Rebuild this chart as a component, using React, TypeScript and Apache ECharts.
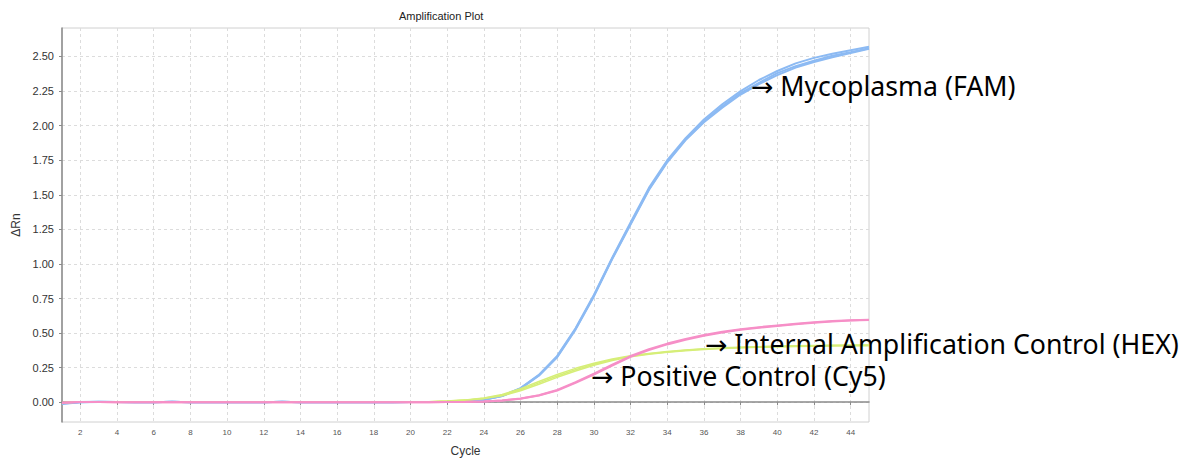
import React, { useEffect, useRef } from "react";
import * as echarts from "echarts";

const cycles = Array.from({ length: 45 }, (_, i) => i + 1);

const xTicks = [2, 4, 6, 8, 10, 12, 14, 16, 18, 20, 22, 24, 26, 28, 30, 32, 34, 36, 38, 40, 42, 44];
const yTicks = [0, 0.25, 0.5, 0.75, 1.0, 1.25, 1.5, 1.75, 2.0, 2.25, 2.5];

const blueA = [
  -0.010, 0.000, 0.003, 0.002, 0.000, 0.000, 0.004, 0.000, 0.000, 0.000,
  0.000, 0.000, 0.004, 0.000, 0.000, 0.000, 0.000, 0.000, 0.000, 0.001,
  0.002, 0.004, 0.008, 0.018, 0.045, 0.100, 0.195, 0.330, 0.530, 0.770,
  1.040, 1.290, 1.540, 1.740, 1.900, 2.030, 2.140, 2.235, 2.310, 2.380,
  2.430, 2.470, 2.505, 2.530, 2.560,
];
const blueB = [
  -0.008, 0.001, 0.003, 0.002, 0.000, 0.000, 0.003, 0.000, 0.000, 0.000,
  0.000, 0.000, 0.003, 0.000, 0.000, 0.000, 0.000, 0.000, 0.000, 0.001,
  0.002, 0.004, 0.009, 0.019, 0.046, 0.102, 0.198, 0.335, 0.535, 0.775,
  1.045, 1.300, 1.550, 1.750, 1.910, 2.045, 2.155, 2.250, 2.330, 2.395,
  2.450, 2.490, 2.520, 2.545, 2.570,
];
const blueC = [
  -0.012, 0.000, 0.002, 0.001, 0.000, 0.000, 0.004, 0.000, 0.000, 0.000,
  0.000, 0.000, 0.004, 0.000, 0.000, 0.000, 0.000, 0.000, 0.000, 0.001,
  0.002, 0.004, 0.008, 0.017, 0.044, 0.098, 0.192, 0.325, 0.525, 0.765,
  1.035, 1.285, 1.535, 1.735, 1.895, 2.025, 2.130, 2.225, 2.300, 2.365,
  2.420, 2.460, 2.495, 2.525, 2.555,
];

const greenA = [
  -0.003, 0.002, 0.002, 0.001, 0.000, 0.000, 0.000, 0.000, 0.000, 0.000,
  0.000, 0.000, 0.000, 0.000, 0.000, 0.000, 0.000, 0.000, 0.000, 0.001,
  0.003, 0.008, 0.015, 0.028, 0.050, 0.090, 0.140, 0.190, 0.235, 0.275,
  0.308, 0.333, 0.350, 0.364, 0.376, 0.385, 0.391, 0.396, 0.400, 0.403,
  0.406, 0.408, 0.410, 0.411, 0.412,
];
const greenB = [
  -0.002, 0.002, 0.002, 0.001, 0.000, 0.000, 0.000, 0.000, 0.000, 0.000,
  0.000, 0.000, 0.000, 0.000, 0.000, 0.000, 0.000, 0.000, 0.000, 0.001,
  0.003, 0.009, 0.017, 0.031, 0.056, 0.098, 0.150, 0.200, 0.245, 0.282,
  0.312, 0.336, 0.352, 0.366, 0.378, 0.387, 0.393, 0.398, 0.402, 0.405,
  0.408, 0.410, 0.412, 0.413, 0.414,
];
const greenC = [
  -0.003, 0.001, 0.002, 0.001, 0.000, 0.000, 0.000, 0.000, 0.000, 0.000,
  0.000, 0.000, 0.000, 0.000, 0.000, 0.000, 0.000, 0.000, 0.000, 0.001,
  0.002, 0.007, 0.014, 0.026, 0.046, 0.083, 0.130, 0.180, 0.226, 0.267,
  0.302, 0.329, 0.347, 0.361, 0.373, 0.382, 0.388, 0.393, 0.397, 0.400,
  0.403, 0.405, 0.407, 0.408, 0.409,
];

const pinkA = [
  -0.004, 0.002, 0.001, 0.000, 0.000, 0.000, 0.001, 0.000, 0.000, 0.000,
  0.000, 0.000, 0.000, 0.000, 0.000, 0.000, 0.000, 0.000, 0.000, 0.000,
  0.000, 0.001, 0.002, 0.005, 0.012, 0.025, 0.048, 0.085, 0.140, 0.200,
  0.265, 0.328, 0.378, 0.418, 0.452, 0.480, 0.504, 0.524, 0.539, 0.551,
  0.563, 0.575, 0.584, 0.591, 0.594,
];
const pinkB = [
  -0.003, 0.002, 0.001, 0.000, 0.000, 0.000, 0.001, 0.000, 0.000, 0.000,
  0.000, 0.000, 0.000, 0.000, 0.000, 0.000, 0.000, 0.000, 0.000, 0.000,
  0.000, 0.001, 0.003, 0.006, 0.013, 0.027, 0.051, 0.089, 0.145, 0.206,
  0.271, 0.334, 0.384, 0.424, 0.458, 0.486, 0.509, 0.528, 0.543, 0.555,
  0.567, 0.578, 0.587, 0.593, 0.596,
];

const BLUE = "#8cbaf3";
const GREEN = "#d6ee78";
const PINK = "#f68fc7";

const seriesDefs = [
  { name: "Mycoplasma (FAM) 1", data: blueA, color: BLUE, width: 2 },
  { name: "Mycoplasma (FAM) 2", data: blueB, color: BLUE, width: 2 },
  { name: "Mycoplasma (FAM) 3", data: blueC, color: BLUE, width: 2 },
  { name: "Internal Amplification Control (HEX) 1", data: greenA, color: GREEN, width: 1.5 },
  { name: "Internal Amplification Control (HEX) 2", data: greenB, color: GREEN, width: 1.5 },
  { name: "Internal Amplification Control (HEX) 3", data: greenC, color: GREEN, width: 1.5 },
  { name: "Positive Control (Cy5) 1", data: pinkA, color: PINK, width: 2 },
  { name: "Positive Control (Cy5) 2", data: pinkB, color: PINK, width: 2 },
];

const AXIS_FONT = "'Liberation Sans', Arial, sans-serif";
const NOTE_FONT = "'Noto Sans', 'DejaVu Sans', sans-serif";

export default function App() {
  const ref = useRef<HTMLDivElement>(null);

  useEffect(() => {
    if (!ref.current) return;
    const chart = echarts.init(ref.current, undefined, { renderer: "svg" });
    const option = {
      animation: false,
      backgroundColor: "#ffffff",
      grid: {
        left: 62,
        right: 329,
        top: 28,
        bottom: 40,
        show: true,
        borderColor: "#d0d0d0",
        borderWidth: 1,
        containLabel: false,
        outerBoundsMode: "none",
      },
      title: {
        text: "Amplification Plot",
        left: 394,
        top: 5,
        textStyle: { fontFamily: AXIS_FONT, fontSize: 11, fontWeight: "normal", color: "#222" },
      },
      xAxis: {
        type: "value",
        min: 1,
        max: 45,
        name: "Cycle",
        nameLocation: "middle",
        nameGap: 23,
        nameTextStyle: { fontFamily: AXIS_FONT, fontSize: 12, color: "#333" },
        axisLine: { show: true, lineStyle: { color: "#8a8a8a", width: 1.5 } },
        axisTick: { show: true, length: 3, customValues: xTicks, lineStyle: { color: "#8a8a8a" } },
        axisLabel: {
          customValues: xTicks,
          fontFamily: AXIS_FONT,
          fontSize: 8,
          color: "#555",
          margin: 6,
        },
        splitLine: { show: true, lineStyle: { color: "#dcdcdc", type: [3, 3], width: 1 } },
      },
      yAxis: {
        type: "value",
        min: -0.143,
        max: 2.706,
        name: "ΔRn",
        nameLocation: "middle",
        nameGap: 38,
        nameRotate: 90,
        nameTextStyle: { fontFamily: AXIS_FONT, fontSize: 12, color: "#333" },
        axisLine: { show: true, lineStyle: { color: "#8a8a8a", width: 1.5 } },
        axisTick: { show: true, length: 3, customValues: yTicks, lineStyle: { color: "#8a8a8a" } },
        axisLabel: {
          customValues: yTicks,
          formatter: (v: number) => v.toFixed(2),
          fontFamily: AXIS_FONT,
          fontSize: 11,
          color: "#333",
          margin: 8,
        },
        splitLine: { show: true, lineStyle: { color: "#dcdcdc", type: [3, 3], width: 1 } },
      },
      series: seriesDefs.map((s) => ({
        name: s.name,
        type: "line",
        data: s.data.map((v, i) => [cycles[i], v]),
        showSymbol: false,
        symbol: "none",
        lineStyle: { color: s.color, width: s.width },
        itemStyle: { color: s.color },
        clip: true,
        z: 2,
      })),
      graphic: [
        {
          type: "text",
          left: 751,
          top: 72,
          style: { text: "→ Mycoplasma (FAM)", font: `26.7px ${NOTE_FONT}`, fill: "#000" },
          z: 100,
        },
        {
          type: "text",
          left: 705,
          top: 330,
          style: { text: "→ Internal Amplification Control (HEX)", font: `26.7px ${NOTE_FONT}`, fill: "#000" },
          z: 100,
        },
        {
          type: "text",
          left: 591,
          top: 362,
          style: { text: "→ Positive Control (Cy5)", font: `26.7px ${NOTE_FONT}`, fill: "#000" },
          z: 100,
        },
      ],
    };
    chart.setOption(option as any);
    return () => chart.dispose();
  }, []);

  return (
    <div
      ref={ref}
      style={{ position: "fixed", left: 0, top: 0, width: 1198, height: 462 }}
    />
  );
}
